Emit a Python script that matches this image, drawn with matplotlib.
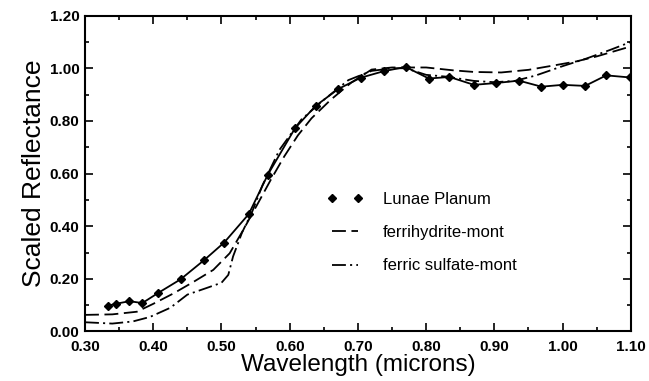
import matplotlib
matplotlib.use("Agg")
import matplotlib.pyplot as plt
from matplotlib.ticker import MultipleLocator, FormatStrFormatter
from matplotlib.lines import Line2D

plt.rcParams['font.family'] = ['Liberation Sans', 'DejaVu Sans']
plt.rcParams['lines.scale_dashes'] = False

# Lunae Planum (data points)
lp_wl = [0.334, 0.345, 0.365, 0.384, 0.407, 0.440, 0.475, 0.504, 0.540, 0.568,
         0.608, 0.638, 0.671, 0.704, 0.738, 0.770, 0.804, 0.834, 0.870, 0.903,
         0.936, 0.969, 1.000, 1.033, 1.064, 1.099]
lp_r = [0.098, 0.105, 0.115, 0.108, 0.146, 0.198, 0.272, 0.338, 0.446, 0.596,
        0.773, 0.857, 0.921, 0.964, 0.989, 1.005, 0.961, 0.967, 0.937, 0.944,
        0.953, 0.930, 0.937, 0.933, 0.973, 0.965]

# ferrihydrite-mont (dashed)
fh_wl = [0.300, 0.340, 0.376, 0.400, 0.430, 0.460, 0.488, 0.512, 0.532, 0.552,
         0.572, 0.592, 0.612, 0.632, 0.660, 0.690, 0.720, 0.750, 0.800, 0.840,
         0.870, 0.910, 0.950, 0.990, 1.020, 1.050, 1.100]
fh_r = [0.063, 0.065, 0.075, 0.105, 0.145, 0.190, 0.234, 0.297, 0.386, 0.480,
        0.575, 0.665, 0.745, 0.810, 0.880, 0.945, 0.995, 1.003, 1.003, 0.992,
        0.986, 0.984, 0.994, 1.012, 1.026, 1.045, 1.083]

# ferric sulfate-mont (dash-dot)
fs_wl = [0.300, 0.340, 0.370, 0.395, 0.425, 0.450, 0.478, 0.500, 0.510, 0.517,
         0.530, 0.545, 0.560, 0.585, 0.617, 0.650, 0.686, 0.720, 0.750, 0.770,
         0.800, 0.830, 0.870, 0.900, 0.930, 0.960, 1.000, 1.035, 1.070, 1.100]
fs_r = [0.035, 0.030, 0.038, 0.055, 0.090, 0.140, 0.165, 0.185, 0.215, 0.285,
        0.375, 0.455, 0.555, 0.690, 0.805, 0.880, 0.955, 0.990, 1.000, 1.000,
        0.975, 0.968, 0.952, 0.947, 0.952, 0.972, 1.008, 1.037, 1.070, 1.100]

labels = ["Lunae Planum", "ferrihydrite-mont", "ferric sulfate-mont"]

fig = plt.figure(figsize=(6.49, 3.81), dpi=100)
ax = fig.add_axes([0.131, 0.130, 0.841, 0.829])

ax.plot(lp_wl, lp_r, color='black', lw=1.3, marker='D', ms=4.5)
ax.plot(fh_wl, fh_r, color='black', lw=1.3, dashes=(10, 4))
ax.plot(fs_wl, fs_r, color='black', lw=1.3, dashes=(10, 3, 1.5, 3))

ax.set_xlim(0.30, 1.10)
ax.set_ylim(0.0, 1.20)
ax.xaxis.set_major_locator(MultipleLocator(0.1))
ax.xaxis.set_minor_locator(MultipleLocator(0.05))
ax.yaxis.set_major_locator(MultipleLocator(0.2))
ax.yaxis.set_minor_locator(MultipleLocator(0.1))
ax.xaxis.set_major_formatter(FormatStrFormatter('%.2f'))
ax.yaxis.set_major_formatter(FormatStrFormatter('%.2f'))
ax.tick_params(which='both', direction='in', top=True, right=True, width=1.2)
ax.tick_params(which='major', length=6, labelsize=11)
ax.tick_params(axis='x', which='major', pad=6)
ax.tick_params(axis='y', which='major', pad=4)
ax.tick_params(which='minor', length=3)
for lab in ax.get_xticklabels() + ax.get_yticklabels():
    lab.set_fontweight('bold')
for s in ax.spines.values():
    s.set_linewidth(1.5)

ax.set_xlabel("Wavelength (microns)", fontsize=17.5, labelpad=0)
ax.set_ylabel("Scaled Reflectance", fontsize=19, labelpad=3)

handles = [
    Line2D([], [], color='black', marker='D', ms=4.5, ls='none'),
    Line2D([], [], color='black', lw=1.3, dashes=(10, 4)),
    Line2D([], [], color='black', lw=1.3, dashes=(10, 3, 1.5, 3)),
]
ax.legend(handles, labels, loc='upper left', bbox_to_anchor=(0.415, 0.49),
          frameon=False, numpoints=2, handlelength=2.2, handletextpad=1.2,
          labelspacing=1.1, fontsize=12)

fig.savefig("out.png", dpi=100)
